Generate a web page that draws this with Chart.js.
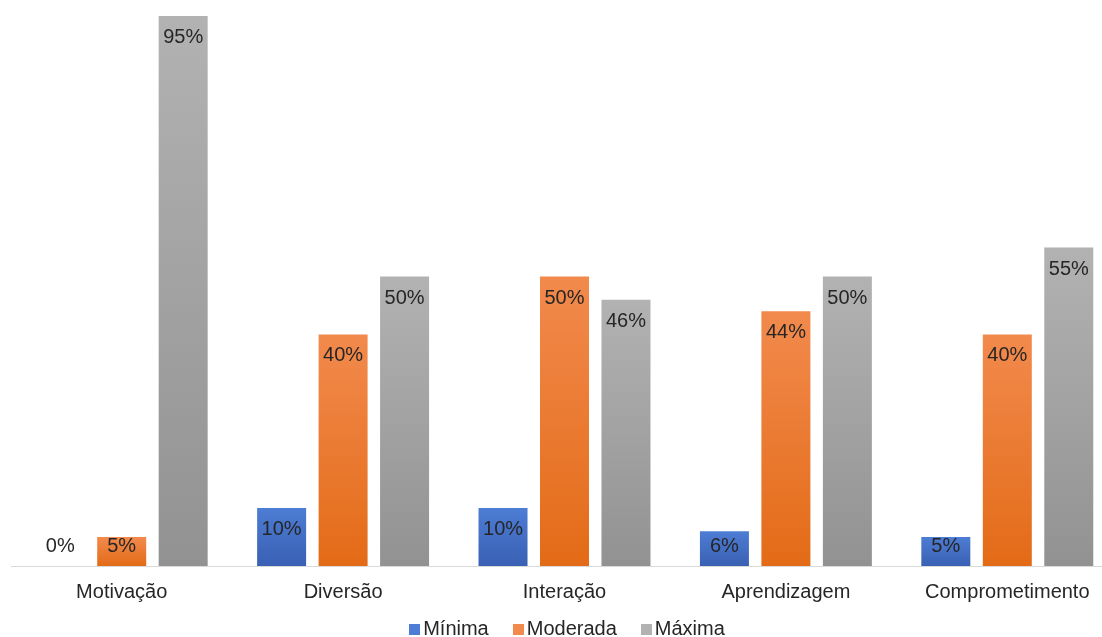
<!DOCTYPE html>
<html lang="pt">
<head>
<meta charset="utf-8">
<title>Motivação, Diversão, Interação, Aprendizagem, Comprometimento</title>
<script src="https://cdn.jsdelivr.net/npm/chart.js@4/dist/chart.umd.min.js"></script>
<style>
  html, body { margin: 0; padding: 0; background: #ffffff; overflow: hidden; }
  body { width: 1102px; height: 637px; position: relative; }
  #wrap { position: absolute; left: 0; top: 0; width: 1130px; height: 637px; }
  #legend {
    position: absolute; left: 2px; width: 1130px; top: 616px;
    display: flex; justify-content: center; gap: 24px;
    font-family: "Liberation Sans", Arial, sans-serif; font-size: 20px; color: #262626;
    line-height: 24px;
  }
  #legend .item { display: flex; align-items: center; }
  #legend .sw { width: 11px; height: 11px; margin-right: 3px; margin-top: 3px; }
</style>
</head>
<body>
<div id="wrap"><canvas id="chart"></canvas></div>
<div id="legend"></div>
<script>
// Categories and percentages per level
const categories = ['Motivação', 'Diversão', 'Interação', 'Aprendizagem', 'Comprometimento'];
const seriesNames = ['Mínima', 'Moderada', 'Máxima'];
const minima   = [0, 10, 10, 6, 5];
const moderada = [5, 40, 50, 44, 40];
const maxima   = [95, 50, 46, 50, 55];

// Gradient fills: [top colour, bottom colour]
const fills = [
  ['#4d7dd4', '#3960b3'],
  ['#f28a4d', '#e36b17'],
  ['#b2b2b2', '#929292']
];

function barGradient(idx) {
  return function (ctx) {
    const chart = ctx.chart;
    const area = chart.chartArea;
    if (!area || ctx.type !== 'data') return fills[idx][1];
    const y = chart.scales.y;
    const v = ctx.raw || 0;
    const top = y.getPixelForValue(v);
    const bottom = y.getPixelForValue(0);
    if (bottom - top < 1) return fills[idx][1];
    const g = chart.ctx.createLinearGradient(0, top, 0, bottom);
    g.addColorStop(0, fills[idx][0]);
    g.addColorStop(1, fills[idx][1]);
    return g;
  };
}

// Value labels drawn inside the top of each bar
const valueLabels = {
  id: 'valueLabels',
  afterDatasetsDraw(chart) {
    const c = chart.ctx;
    const base = chart.scales.y.getPixelForValue(0);
    c.save();
    c.font = '20px "Liberation Sans", Arial, sans-serif';
    c.fillStyle = '#262626';
    c.textAlign = 'center';
    c.textBaseline = 'middle';
    chart.data.datasets.forEach((ds, di) => {
      chart.getDatasetMeta(di).data.forEach((bar, i) => {
        const y = Math.min(bar.y + 21.5, base - 19.5);
        c.fillText(ds.data[i] + '%', bar.x, y);
      });
    });
    c.restore();
  }
};

const seriesData = [minima, moderada, maxima];

const chart = new Chart(document.getElementById('chart'), {
  type: 'bar',
  data: {
    labels: categories,
    datasets: seriesNames.map((name, i) => ({
      label: name,
      data: seriesData[i],
      backgroundColor: barGradient(i),
      borderWidth: 0,
      categoryPercentage: 0.833,
      barPercentage: 0.797
    }))
  },
  options: {
    responsive: true,
    maintainAspectRatio: false,
    animation: false,
    layout: { padding: { left: 11, right: 12, top: 16, bottom: 0 } },
    plugins: { legend: { display: false }, tooltip: { enabled: false } },
    scales: {
      x: {
        grid: { display: false, drawTicks: false },
        border: { display: true, color: '#d9d9d9', width: 1 },
        ticks: {
          color: '#262626',
          padding: 14,
          font: { family: '"Liberation Sans", Arial, sans-serif', size: 20 }
        },
        afterFit(scale) { scale.height = 71; }
      },
      y: {
        display: false,
        min: 0,
        max: 95
      }
    }
  },
  plugins: [valueLabels]
});

// Legend built from the datasets
const legend = document.getElementById('legend');
chart.data.datasets.forEach((ds, i) => {
  const item = document.createElement('div');
  item.className = 'item';
  const sw = document.createElement('span');
  sw.className = 'sw';
  sw.style.background = fills[i][0];
  const tx = document.createElement('span');
  tx.textContent = ds.label;
  item.appendChild(sw);
  item.appendChild(tx);
  legend.appendChild(item);
});
</script>
</body>
</html>
